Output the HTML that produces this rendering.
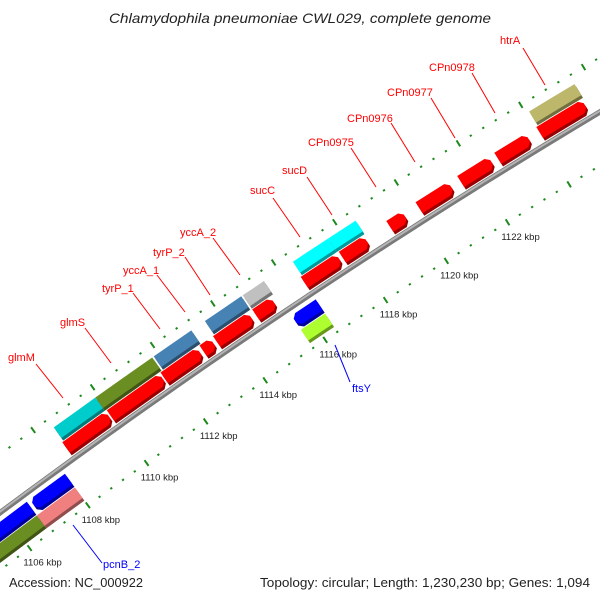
<!DOCTYPE html>
<html><head><meta charset="utf-8"><style>
html,body{margin:0;padding:0;background:#fff;width:600px;height:600px;overflow:hidden;}
svg{display:block;font-family:"Liberation Sans",sans-serif;}
</style></head><body>
<svg id="chart" width="600" height="600" viewBox="0 0 600 600" xmlns="http://www.w3.org/2000/svg" overflow="hidden">
<rect width="600" height="600" fill="#fff"/>
<g id="ticks"></g>
<g id="backbone"></g>
<g id="feats"></g>
<g id="labels"></g>
<text x="109" y="23" textLength="382" lengthAdjust="spacingAndGlyphs" font-size="14" font-style="italic" fill="#222">Chlamydophila pneumoniae CWL029, complete genome</text>
<text x="9" y="587" textLength="134" lengthAdjust="spacingAndGlyphs" font-size="13" fill="#222">Accession: NC_000922</text>
<text x="260" y="587" textLength="330" lengthAdjust="spacingAndGlyphs" font-size="13" fill="#222">Topology: circular; Length: 1,230,230 bp; Genes: 1,094</text>
</svg>
<script>
// forward strand genes (kbp)
const fwdStart = [1108.45,1109.95,1111.75,1113.05,1113.5,1114.8,1116.4,1117.65,1119.2,1120.15,1121.5,1122.7,1124.05];
const fwdEnd   = [1109.9,1111.7,1112.95,1113.4,1114.65,1115.4,1117.55,1118.45,1119.7,1121.2,1122.5,1123.7,1125.5];
// forward COG boxes
const cogStart = [1108.5,1109.9,1111.85,1113.55,1114.8,1116.45,1117.6,1124.1];
const cogEnd   = [1109.9,1111.8,1113.1,1114.75,1115.5,1117.6,1118.5,1125.55];
const cogColor = ["#00cccc","#6b8e23","#4682b4","#4682b4","#c0c0c0","#00ffff","#00ffff","#bdb76b"];
// reverse strand genes
const revStart = [1102.5,1106.8,1115.6];
const revEnd   = [1106.7,1108.0,1116.4];
const revCogStart = [1102.5,1106.7,1115.6];
const revCogEnd   = [1106.7,1108.0,1116.4];
const revCogColor = ["#6b8e23","#f08080","#adff2f"];
// tick labels
const tickLabelKbp = [1106,1108,1110,1112,1114,1116,1118,1120,1122];
// gene labels
const geneNames = ["glmM","glmS","tyrP_1","yccA_1","tyrP_2","yccA_2","sucC","sucD","CPn0975","CPn0976","CPn0977","CPn0978","htrA","ftsY","pcnB_2"];

const NS="http://www.w3.org/2000/svg";
const GENOME=1230.23, R0=7127, REF=1115;
const CX=4254, CY=6231;
const PHI0=Math.atan2(-0.829,-0.559);
function pt(kbp,off){const phi=PHI0+(kbp-REF)/GENOME*2*Math.PI;const r=R0+off;return [CX+r*Math.cos(phi),CY+r*Math.sin(phi)];}
function P(a){return a.map(p=>p[0].toFixed(1)+","+p[1].toFixed(1)).join(" ");}
function mk(tag,attrs,parent){const e=document.createElementNS(NS,tag);for(const k in attrs)e.setAttribute(k,attrs[k]);parent.appendChild(e);return e;}
function shade(c){const n=parseInt(c.slice(1),16);let r=(n>>16)&255,g=(n>>8)&255,b=n&255;return "rgb("+Math.round(r*0.6)+","+Math.round(g*0.6)+","+Math.round(b*0.6)+")";}

// backbone
const bb=document.getElementById('backbone');
const bpts=[];for(let k=1101;k<=1128;k+=0.5)bpts.push(pt(k,0));
let e=mk('polyline',{points:P(bpts),fill:"none",stroke:"#7a7a7a","stroke-width":"5.5"},bb);


e=mk('polyline',{points:P(bpts.map(p=>[p[0]-0.5,p[1]-0.8])),fill:"none",stroke:"#b4b4b4","stroke-width":"2"},bb);



// ticks
const tg=document.getElementById('ticks');
for(let i=0;i<=65;i++){
  const k=1102+0.4*i;
  const major=(i%5===0);
  [47,-46].forEach(off=>{
    const h=major?3.5:1;
    const a=pt(k,off-h),b=pt(k,off+h);
    const t=mk('line',{x1:a[0],y1:a[1],x2:b[0],y2:b[1],stroke:"#1e8a1e","stroke-width":major?"2":"2.2"},tg);
    
    
  });
}
tickLabelKbp.forEach(k=>{
  const p=pt(k,-46);
  const t=mk('text',{x:p[0]+13,y:p[1]+17.5,"text-anchor":"middle","font-size":"9.5",fill:"#222"},tg);
  t.textContent=k+" kbp";
  
  
});

const fg=document.getElementById('feats');
function drawShape(pts,color,name){
  const s=mk('polygon',{points:P(pts.map(p=>[p[0]+1.8,p[1]+2.6])),fill:shade(color)},fg);
  
  
  const m=mk('polygon',{points:P(pts),fill:color},fg);
  
  
}
function box(s,e2,o1,o2){return [pt(s,o1),pt((s+e2)/2,o1),pt(e2,o1),pt(e2,o2),pt((s+e2)/2,o2),pt(s,o2)];}
for(let i=0;i<cogStart.length;i++) drawShape(box(cogStart[i],cogEnd[i],24,37),cogColor[i],'forward-cog-box');
const TIP=0.12;
for(let i=0;i<fwdStart.length;i++){
  const s=fwdStart[i],en=fwdEnd[i],t=Math.min(TIP,(en-s)/2);
  drawShape([pt(s,7),pt(en-t,7),pt(en,11),pt(en,16),pt(en-t,20),pt(s,20)],"#ff0000",'forward-gene');
}
for(let i=0;i<revCogStart.length;i++) drawShape(box(revCogStart[i],revCogEnd[i],-37,-24),revCogColor[i],'reverse-cog-box');
for(let i=0;i<revStart.length;i++){
  const s=revStart[i],en=revEnd[i],t=Math.min(TIP,(en-s)/2);
  drawShape([pt(s,-11),pt(s+t,-7),pt(en,-7),pt(en,-20),pt(s+t,-20),pt(s,-16)],"#0000ff",'reverse-gene');
}

// gene labels with leader lines (screen positions)
const lblX=[8,60,102,123,153,180,250,282,308,347,387,429,500,352,103];
const lblY=[361,326,292,274,256,236,194,174,146,122,96,71,44,392,568];
const lnX1=[36,85,133,157,185,213,273,307,351,391,431,472,523,350,102];
const lnY1=[364,328,293,275,257,238,198,177,148,123,98,73,48,382,563];
const lnX2=[63,111,160,185,210,240,300,332,376,415,455,495,545,335,73];
const lnY2=[398,363,329,312,295,275,237,215,187,162,138,113,85,345,525];
const lg=document.getElementById('labels');
geneNames.forEach((n,i)=>{
  const col=(n==="ftsY"||n==="pcnB_2")?"#0000ff":"#ff0000";
  const l=mk('line',{x1:lnX1[i],y1:lnY1[i],x2:lnX2[i],y2:lnY2[i],stroke:col,"stroke-width":"1"},lg);
  
  
  const t=mk('text',{x:lblX[i],y:lblY[i],"font-size":"11",fill:col},lg);
  t.textContent=n;
  
  
});
</script>
</body></html>
